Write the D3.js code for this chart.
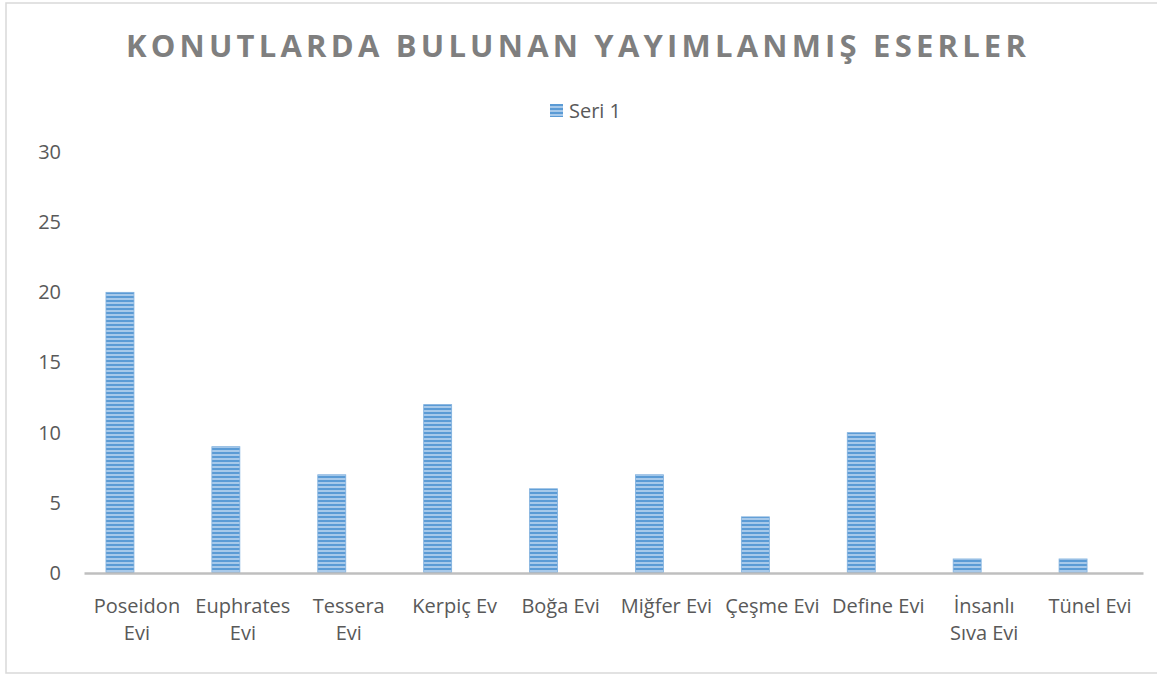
<!DOCTYPE html>
<html>
<head>
<meta charset="utf-8">
<script src="https://cdn.jsdelivr.net/npm/d3@7"></script>
<style>
  html, body { margin: 0; padding: 0; background: #fff; }
  svg { display: block; }
</style>
</head>
<body>
<svg id="chart" width="1157" height="675"></svg>
<script>
// Yayımlanmış eser sayıları, konut başına
const categories = [
  "Poseidon\nEvi", "Euphrates\nEvi", "Tessera\nEvi", "Kerpiç Ev", "Boğa Evi",
  "Miğfer Evi", "Çeşme Evi", "Define Evi", "İnsanlı\nSıva Evi", "Tünel Evi"
];
const seri1 = [20, 9, 7, 12, 6, 7, 4, 10, 1, 1];
const seriesSlots = ["Seri 1", "Seri 2"];
const yTicks = [0, 5, 10, 15, 20, 25, 30];
const titleText = "KONUTLARDA BULUNAN YAYIMLANMIŞ ESERLER";

const svg = d3.select("#chart");
const W = 1157, H = 675;
const font = "'Open Sans', 'DejaVu Sans', sans-serif";
const textColor = "#595959";

// Chart area frame
svg.append("rect")
  .attr("x", 6).attr("y", 3)
  .attr("width", W).attr("height", 670)
  .attr("fill", "#fff")
  .attr("stroke", "#d9d9d9").attr("stroke-width", 1.5);

// Striped fill for the columns
const defs = svg.append("defs");
const pat = defs.append("pattern")
  .attr("id", "stripes")
  .attr("patternUnits", "userSpaceOnUse")
  .attr("width", 8).attr("height", 4);
pat.append("rect").attr("width", 8).attr("height", 4).attr("fill", "#a7c9ea");
pat.append("rect").attr("width", 8).attr("height", 2).attr("fill", "#5b9bd5");

const plot = { left: 84, right: 1143, top: 152, bottom: 573 };

const x = d3.scaleBand()
  .domain(categories)
  .range([plot.left, plot.right])
  .paddingInner(0.415)
  .paddingOuter(0.2075);

const xSub = d3.scaleBand()
  .domain(seriesSlots)
  .range([0, x.bandwidth()])
  .paddingInner(0.176);

const y = d3.scaleLinear()
  .domain([0, 30])
  .range([plot.bottom, plot.top]);

// Title
svg.append("text")
  .attr("x", 578).attr("y", 57)
  .attr("text-anchor", "middle")
  .attr("font-family", font)
  .attr("font-weight", "bold")
  .attr("font-size", 31)
  .attr("letter-spacing", 4.2)
  .attr("fill", "#7f7f7f")
  .text(titleText);

// Legend
const legend = svg.append("g").attr("transform", "translate(550,104)");
legend.append("rect")
  .attr("width", 13).attr("height", 13)
  .attr("fill", "url(#stripes)");
legend.append("text")
  .attr("x", 19).attr("y", 14)
  .attr("font-family", font)
  .attr("font-size", 20)
  .attr("fill", textColor)
  .text(seriesSlots[0]);

// Y axis labels (no axis line, no gridlines)
const yAxis = svg.append("g")
  .attr("transform", `translate(${plot.left},0)`)
  .call(d3.axisLeft(y).tickValues(yTicks).tickSize(0).tickPadding(23));
yAxis.select(".domain").remove();
yAxis.selectAll("text")
  .attr("font-family", font)
  .attr("font-size", 20)
  .attr("fill", textColor);

// Columns
svg.append("g")
  .selectAll("rect")
  .data(seri1)
  .join("rect")
  .attr("x", (d, i) => x(categories[i]) + xSub("Seri 1"))
  .attr("y", d => y(d))
  .attr("width", xSub.bandwidth())
  .attr("height", d => y(0) - y(d))
  .attr("fill", "url(#stripes)")
  .attr("stroke", "#7fb0de")
  .attr("stroke-width", 0.8);

// X axis
const xAxis = svg.append("g")
  .attr("transform", `translate(0,${plot.bottom})`)
  .call(d3.axisBottom(x).tickSize(0).tickPadding(0));
xAxis.select(".domain")
  .attr("stroke", "#bfbfbf")
  .attr("stroke-width", 2.5);
xAxis.selectAll(".tick text").each(function(d) {
  const t = d3.select(this);
  t.text(null)
    .attr("font-family", font)
    .attr("font-size", 20)
    .attr("fill", textColor)
    .attr("y", 0).attr("dy", null);
  d.split("\n").forEach((line, k) => {
    t.append("tspan")
      .attr("x", 0)
      .attr("y", 40 + k * 27)
      .text(line);
  });
});
</script>
</body>
</html>
